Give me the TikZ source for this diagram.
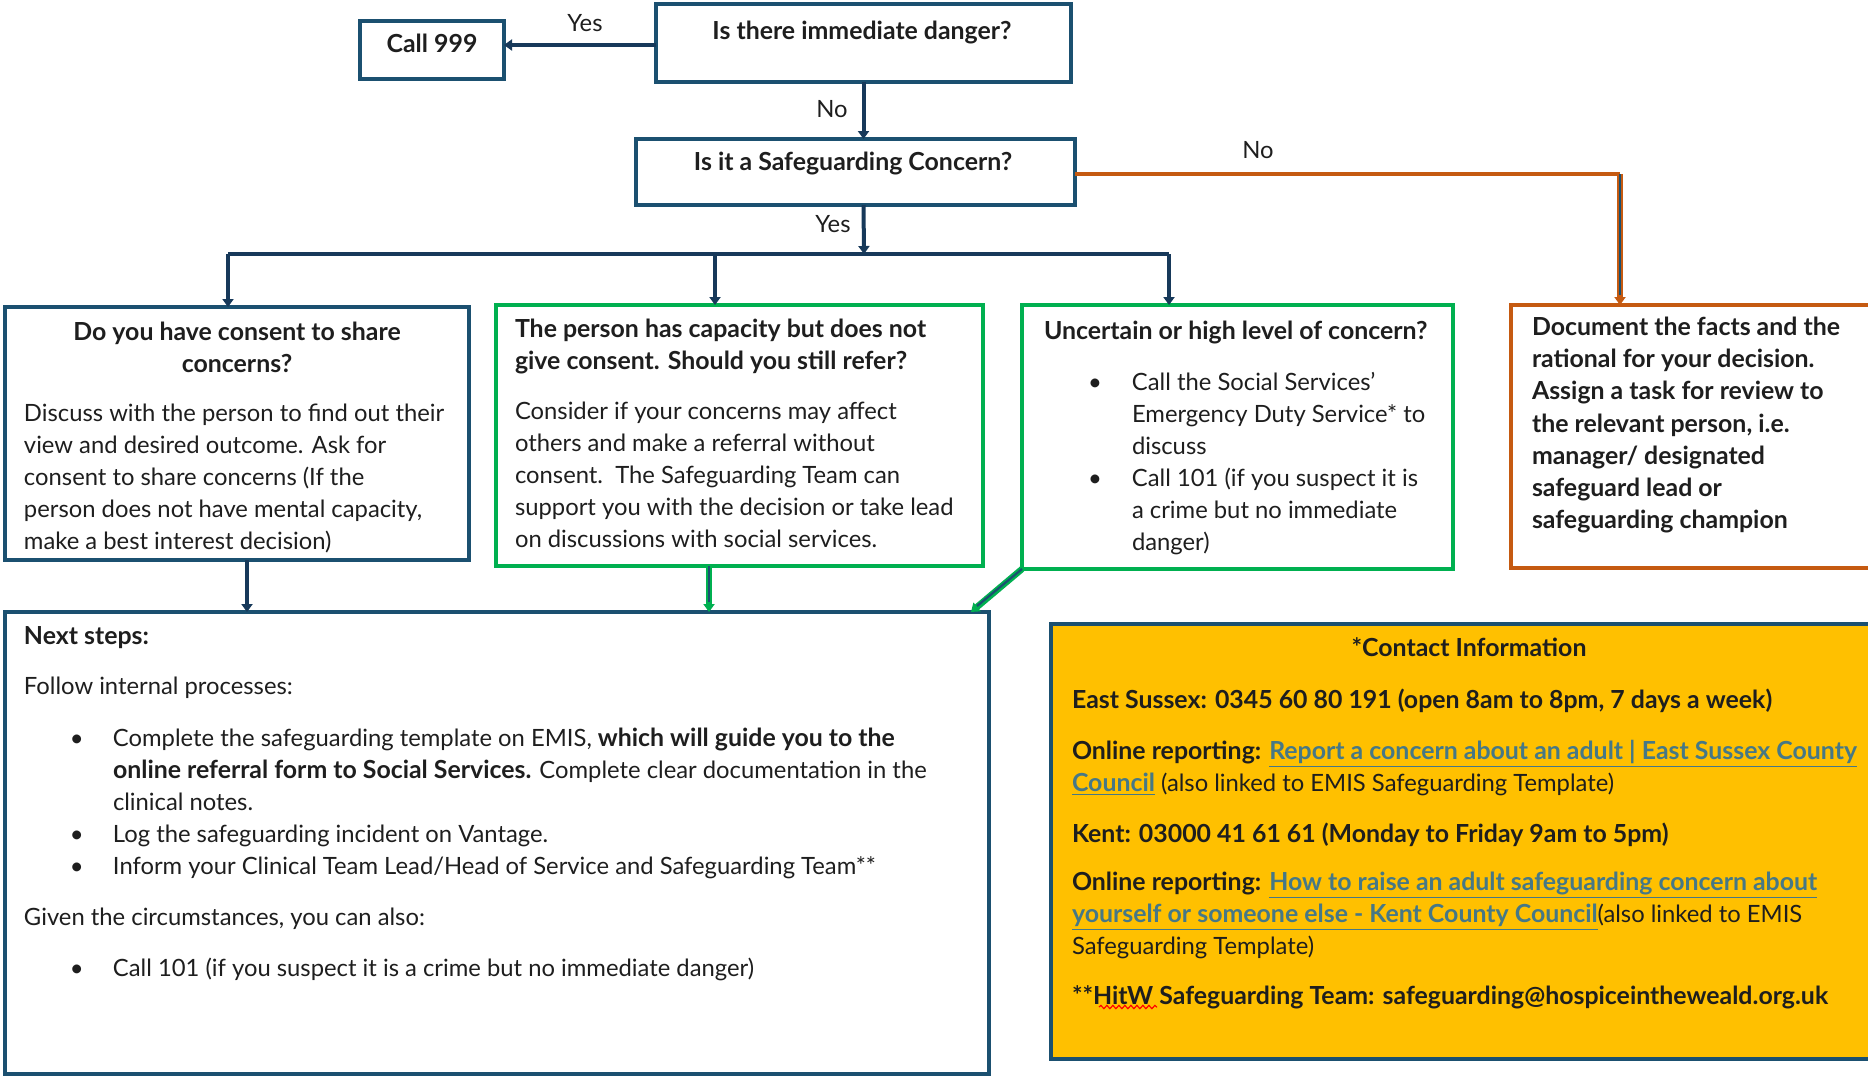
\documentclass[tikz,border=0pt]{standalone}
\usepackage{fontspec}
\setmainfont{Lato}[BoldFeatures={Scale=1.045}]
\usetikzlibrary{arrows.meta,decorations.pathmorphing}
\definecolor{navy}{HTML}{1B5070}
\definecolor{darkline}{HTML}{17395A}
\definecolor{grn}{HTML}{00B050}
\definecolor{org}{HTML}{C55A11}
\definecolor{ylw}{HTML}{FFC000}
\definecolor{lnkc}{HTML}{467886}
\definecolor{txt}{HTML}{1E1E1E}
\newcommand{\nsbul}{\hspace*{23pt}\makebox[21.5pt][l]{\textbullet}}
\newcommand{\nsind}{\hspace*{44.5pt}}
\newcommand{\ucbul}{\hspace*{22pt}\makebox[22pt][l]{\textbullet}}
\newcommand{\ucind}{\hspace*{44pt}}
\newcommand{\hlink}[1]{{\color{lnkc}\underline{#1}}}
\newcommand{\fs}{\fontsize{11.9}{16}\selectfont}
\begin{document}
\begin{tikzpicture}[x=0.5pt,y=-0.5pt,
  every node/.style={inner sep=0pt, outer sep=0pt, text=txt, font=\fs},
  box/.style={draw, line width=2.2pt, anchor=north west},
  blk/.style={anchor=north west, align=left},
  lbl/.style={anchor=base},
  tip/.style={-{Triangle[length=4pt,width=5.5pt]}},
  conn/.style={draw=darkline, line width=2pt, tip},
  outer/.style={line width=3.2pt, tip},
  inner/.style={draw=navy, line width=1.1pt}
]
\useasboundingbox (0,0) rectangle (1868,1078);

% boxes
\node[box, draw=navy, minimum width=72pt, minimum height=29pt] (call) at (360,21) {};
\node[box, draw=navy, minimum width=207.5pt, minimum height=39pt] (danger) at (656,4) {};
\node[box, draw=navy, minimum width=219.5pt, minimum height=33pt] (sg) at (636,139) {};
\node[box, draw=navy, minimum width=232pt, minimum height=126.5pt] (consent) at (5,307) {};
\node[box, draw=grn, minimum width=243.5pt, minimum height=130.5pt] (capacity) at (496,305) {};
\node[box, draw=grn, minimum width=215.5pt, minimum height=132pt] (uncertain) at (1022,305) {};
\node[box, draw=org, minimum width=182pt, minimum height=131.5pt] (document) at (1511,305) {};
\node[box, draw=navy, minimum width=492pt, minimum height=231pt] (next) at (5,612) {};
\node[box, draw=navy, fill=ylw, minimum width=412pt, minimum height=217.5pt] (contact) at (1051,624) {};

% texts
\node[lbl, font=\fs\bfseries] (tcall) at (432,52) {Call 999};
\node[lbl, font=\fs\bfseries] (tdanger) at (862,39) {Is there immediate danger?};
\node[lbl, font=\fs\bfseries] (tsg) at (853,170) {Is it a Safeguarding Concern?};

\node[anchor=north, align=center, font=\fs\bfseries] (tconsent) at (237,322)
  {Do you have consent to share\\concerns?};
\node[blk] (bconsent) at (24,404)
  {Discuss with the person to find out their\\
   view and desired outcome. Ask for\\
   consent to share concerns (If the\\
   person does not have mental capacity,\\
   make a best interest decision)};

\node[blk, font=\fs\bfseries] (tcapacity) at (515,319)
  {The person has capacity but does not\\give consent. Should you still refer?};
\node[blk] (bcapacity) at (515,402)
  {Consider if your concerns may affect\\
   others and make a referral without\\
   consent.\ \ The Safeguarding Team can\\
   support you with the decision or take lead\\
   on discussions with social services.};

\node[blk] (tuncertain) at (1044,321)
  {\textbf{Uncertain or high level of concern?}\\[9.5pt]
   \ucbul Call the Social Services’\\
   \ucind Emergency Duty Service* to\\
   \ucind discuss\\
   \ucbul Call 101 (if you suspect it is\\
   \ucind a crime but no immediate\\
   \ucind danger)};

\node[blk, font=\fontsize{11.9}{16.1}\selectfont\bfseries] (tdocument) at (1532,317)
  {Document the facts and the\\
   rational for your decision.\\
   Assign a task for review to\\
   the relevant person, i.e.\\
   manager/ designated\\
   safeguard lead or\\
   safeguarding champion};

\node[blk] (tnext) at (24,626)
  {\textbf{Next steps:}\\[9pt]
   Follow internal processes:\\[10pt]
   \nsbul Complete the safeguarding template on EMIS, \textbf{which will guide you to the}\\
   \nsind\textbf{online referral form to Social Services.} Complete clear documentation in the\\
   \nsind clinical notes.\\
   \nsbul Log the safeguarding incident on Vantage.\\
   \nsbul Inform your Clinical Team Lead/Head of Service and Safeguarding Team**\\[9.5pt]
   Given the circumstances, you can also:\\[9.5pt]
   \nsbul Call 101 (if you suspect it is a crime but no immediate danger)};

\node[lbl, font=\fs\bfseries] (tcontact) at (1469,656) {*Contact Information};
\node[blk] (bcontact) at (1072,689)
  {\textbf{East Sussex: 0345 60 80 191 (open 8am to 8pm, 7 days a week)}\\[9.5pt]
   \textbf{Online reporting: \hlink{Report a concern about an adult | East Sussex County}}\\
   \textbf{\hlink{Council}} (also linked to EMIS Safeguarding Template)\\[9.5pt]
   \textbf{Kent: 03000 41 61 61 (Monday to Friday 9am to 5pm)}\\[8pt]
   \textbf{Online reporting: \hlink{How to raise an adult safeguarding concern about}}\\
   \textbf{\hlink{yourself or someone else - Kent County Council}}(also linked to EMIS\\
   Safeguarding Template)\\[9pt]
   \textbf{**HitW Safeguarding Team: safeguarding@hospiceintheweald.org.uk}};
\draw[red, line width=0.6pt, decorate, decoration={snake, amplitude=0.8pt, segment length=3pt}]
  (1099,1007) -- (1157,1007);

% edge labels
\node[lbl] (lyes1) at (585,31) {Yes};
\node[lbl] (lno1) at (832,117) {No};
\node[lbl] (lyes2) at (833,232) {Yes};
\node[lbl] (lno2) at (1258,158) {No};

% connectors
\coordinate (bar) at (864,254);
\coordinate (barL) at (228,254);
\coordinate (barM) at (715,254);
\coordinate (barR) at (1169,254);
\coordinate (orgc) at (1620,174);

\draw[conn] (danger.west |- 0,45) -- (call.east |- 0,45);
\draw[conn] (danger.south) -- (danger.south |- sg.north);
\draw[conn] (danger.south |- sg.south) -- (bar);
\draw[draw=darkline, line width=2pt] (barL) -- (barR);
\draw[conn] (barL) -- (barL |- consent.north);
\draw[conn] (barM) -- (barM |- capacity.north);
\draw[conn] (barR) -- (barR |- uncertain.north);

\draw[draw=org, line width=2.4pt] (sg.east |- orgc) -- (orgc);
\draw[draw=org, outer] (orgc) -- (orgc |- document.north);
\draw[inner] (orgc) -- ([yshift=5pt]orgc |- document.north);

\draw[conn] (247,560) -- (247,612);
\draw[draw=grn, outer] (709,566) -- (709,612);
\draw[inner] (709,566) -- (709,602);
\draw[draw=grn, outer] (uncertain.south west) -- (971,612);
\draw[inner] (uncertain.south west) -- (977,606);
\end{tikzpicture}
\end{document}
